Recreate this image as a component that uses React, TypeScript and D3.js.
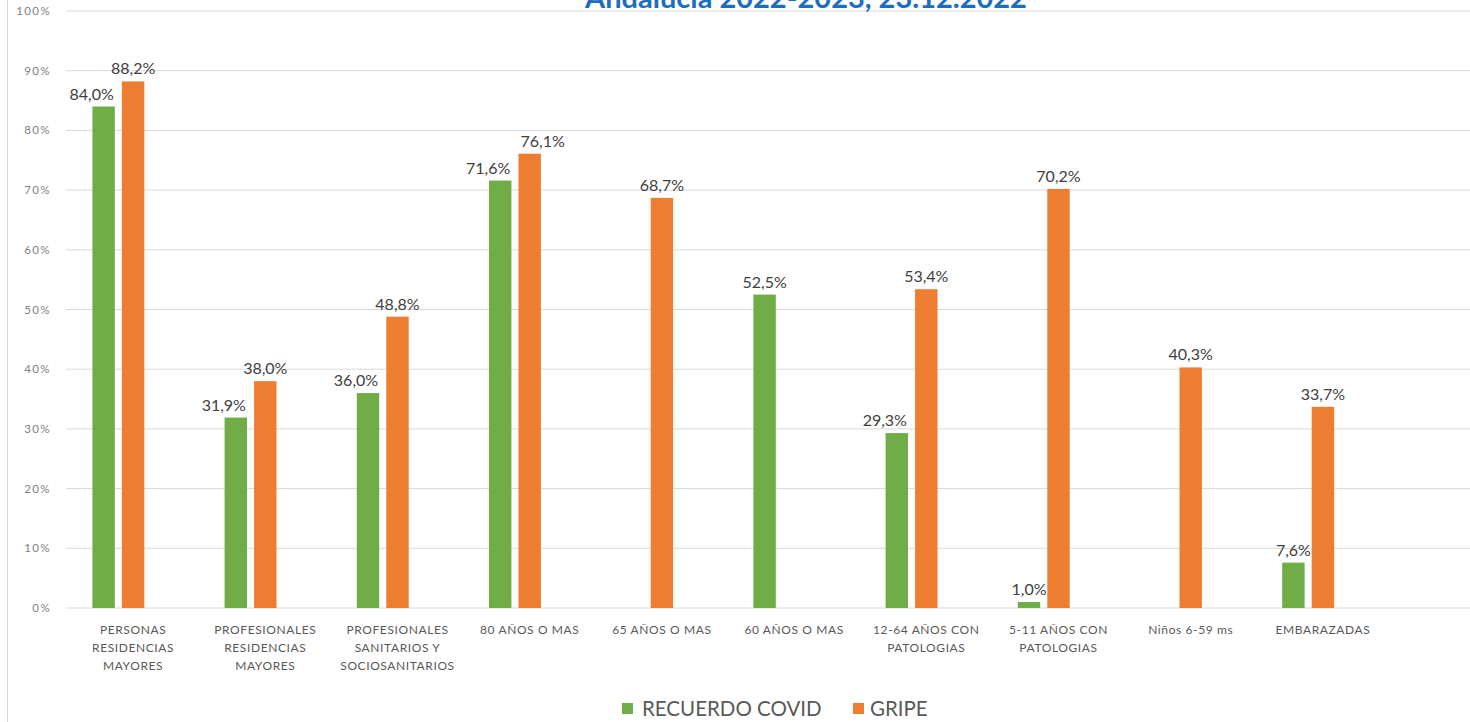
import React from "react";
import * as d3 from "d3";

const categories: string[][] = [
  ["PERSONAS", "RESIDENCIAS", "MAYORES"],
  ["PROFESIONALES", "RESIDENCIAS", "MAYORES"],
  ["PROFESIONALES", "SANITARIOS Y", "SOCIOSANITARIOS"],
  ["80 AÑOS O MAS"],
  ["65 AÑOS O MAS"],
  ["60 AÑOS O MAS"],
  ["12-64 AÑOS CON", "PATOLOGIAS"],
  ["5-11 AÑOS CON", "PATOLOGIAS"],
  ["Niños 6-59 ms"],
  ["EMBARAZADAS"],
];
const covid: (number | null)[] = [84.0, 31.9, 36.0, 71.6, null, 52.5, 29.3, 1.0, null, 7.6];
const gripe: (number | null)[] = [88.2, 38.0, 48.8, 76.1, 68.7, null, 53.4, 70.2, 40.3, 33.7];
const yTicks: number[] = [0, 10, 20, 30, 40, 50, 60, 70, 80, 90, 100];
const seriesNames = ["RECUERDO COVID", "GRIPE"];
const title = "Andalucía 2022-2023, 23.12.2022";

const W = 1470;
const H = 722;
const GREEN = "#70ad47";
const ORANGE = "#ed7d31";
const FONT = "Lato, 'Open Sans', 'DejaVu Sans', sans-serif";

export default function App() {
  const keys = categories.map((_, i) => String(i));
  const x = d3.scaleBand<string>().domain(keys).range([67, 1389]).padding(0);
  const group = 88.5;
  const bw = x.bandwidth();
  const x1 = d3
    .scaleBand<string>()
    .domain(["covid", "gripe", "blank"])
    .range([(bw - group) / 2, (bw + group) / 2])
    .paddingInner(0.24)
    .paddingOuter(0.12);
  const y = d3.scaleLinear().domain([0, 100]).range([608, 11]);
  const fmt = (v: number) => v.toFixed(1).replace(".", ",") + "%";

  const bars: React.ReactNode[] = [];
  const labels: React.ReactNode[] = [];
  keys.forEach((k, i) => {
    const g = covid[i];
    const o = gripe[i];
    const gx = (x(k) as number) + (x1("covid") as number);
    const ox = (x(k) as number) + (x1("gripe") as number);
    const w = x1.bandwidth();
    let gShift = 0;
    if (g != null) {
      const txt = fmt(g);
      const half = txt.length * 4.6;
      if (o != null && o > g && gx + w / 2 + half > ox + 2) gShift = -12;
      bars.push(<rect key={"g" + i} x={gx} y={y(g)} width={w} height={y(0) - y(g)} fill={GREEN} />);
      labels.push(
        <text key={"gl" + i} x={gx + w / 2 + gShift} y={y(g) - 7} textAnchor="middle" fontSize={16} fill="#404040" fontFamily={FONT}>
          {txt}
        </text>
      );
    }
    if (o != null) {
      let oShift = 0;
      if (g != null && gShift !== 0 && y(g) - y(o) < 30 && g < 80) oShift = 13;
      bars.push(<rect key={"o" + i} x={ox} y={y(o)} width={w} height={y(0) - y(o)} fill={ORANGE} />);
      labels.push(
        <text key={"ol" + i} x={ox + w / 2 + oShift} y={y(o) - 7} textAnchor="middle" fontSize={16} fill="#404040" fontFamily={FONT}>
          {fmt(o)}
        </text>
      );
    }
  });

  return (
    <svg width={W} height={H} style={{ position: "absolute", left: 0, top: 0, background: "#fff" }}>
      <rect x={0} y={0} width={W} height={H} fill="#fff" />
      <line x1={7.5} x2={7.5} y1={0} y2={H} stroke="#d9d9d9" strokeWidth={1} />
      {yTicks.map((t) => (
        <g key={t}>
          <line x1={66} x2={W} y1={y(t)} y2={y(t)} stroke="#d9d9d9" strokeWidth={1} />
          <text x={51} y={y(t) + 4} textAnchor="end" fontSize={11.5} letterSpacing={1.4} fill="#7f7f7f" fontFamily={FONT}>
            {t + "%"}
          </text>
        </g>
      ))}
      <text x={806} y={8} textAnchor="middle" fontSize={29} fontWeight="bold" fill="#1f6dbd" fontFamily={FONT}>
        {title}
      </text>
      {bars}
      {labels}
      {categories.map((lines, i) => {
        const cx = (x(String(i)) as number) + bw / 2;
        return (
          <text key={"c" + i} textAnchor="middle" fontSize={12} letterSpacing={0.6} fill="#595959" fontFamily={FONT}>
            {lines.map((l, j) => (
              <tspan key={j} x={cx} y={634 + j * 18}>
                {l}
              </tspan>
            ))}
          </text>
        );
      })}
      <g fontFamily={FONT} fill="#595959">
        <rect x={622} y={703} width={11} height={11} fill={GREEN} />
        <text x={642} y={716} fontSize={20.5}>{seriesNames[0]}</text>
        <rect x={853} y={703} width={11} height={11} fill={ORANGE} />
        <text x={870} y={716} fontSize={20.5}>{seriesNames[1]}</text>
      </g>
    </svg>
  );
}
